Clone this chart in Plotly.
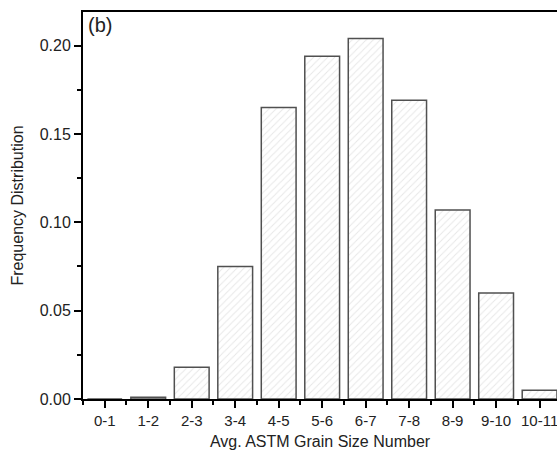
import plotly.graph_objects as go

categories = ["0-1", "1-2", "2-3", "3-4", "4-5", "5-6", "6-7", "7-8", "8-9", "9-10", "10-11"]
frequency = [0.0, 0.001, 0.018, 0.075, 0.165, 0.194, 0.204, 0.169, 0.107, 0.060, 0.005]
y_ticks = [0.00, 0.05, 0.10, 0.15, 0.20]
y_tick_labels = ["0.00", "0.05", "0.10", "0.15", "0.20"]

xpos = list(range(len(categories)))

fig = go.Figure()
fig.add_trace(go.Bar(
    x=xpos, y=frequency, width=0.8,
    marker=dict(
        color="white",
        line=dict(color="#505050", width=1.5),
        pattern=dict(shape="/", fgcolor="#d0d0d0", bgcolor="white", size=5, solidity=0.2),
    ),
))

font_family = "Liberation Sans, Arial, sans-serif"
fig.update_layout(
    width=557, height=456,
    margin=dict(l=83, r=0, t=12, b=57),
    plot_bgcolor="white", paper_bgcolor="white",
    showlegend=False,
    font=dict(family=font_family, size=16, color="#222"),
    bargap=0.2,
)
fig.update_xaxes(
    range=[-0.5, 10.4], automargin=False, ticklabeloverflow="allow",
    tickmode="array", tickvals=xpos, ticktext=categories,
    ticks="outside", ticklen=7, tickwidth=2, tickcolor="black",
    showline=True, linecolor="black", linewidth=2, mirror=True,
    showgrid=False, zeroline=False,
    tickfont=dict(size=15, color="#222"),
    minor=dict(tickvals=[i + 0.5 for i in range(-1, len(categories))],
               ticks="outside", ticklen=4, tickwidth=2, tickcolor="black", showgrid=False),
    title=dict(text="Avg. ASTM Grain Size Number", font=dict(size=16, color="#222"), standoff=8),
)
fig.update_yaxes(
    range=[0, 0.219], automargin=False,
    tickmode="array", tickvals=y_ticks, ticktext=y_tick_labels,
    ticks="outside", ticklen=7, tickwidth=2, tickcolor="black",
    showline=True, linecolor="black", linewidth=2, mirror=False,
    showgrid=False, zeroline=False,
    tickfont=dict(size=16, color="#222"),
    minor=dict(tickvals=[0.025, 0.075, 0.125, 0.175], ticks="outside", ticklen=4,
               tickwidth=2, tickcolor="black", showgrid=False),
    title=dict(text="Frequency Distribution", font=dict(size=16, color="#222"), standoff=12),
)
fig.add_annotation(
    text="(b)", xref="paper", yref="paper", x=0.0, y=1.0, xshift=3,
    xanchor="left", yanchor="top", showarrow=False,
    font=dict(size=20, color="#222", family=font_family),
)
fig.write_html("out.html", config={"displayModeBar": False},
               post_script="document.body.style.margin='0';document.body.style.padding='0';")
